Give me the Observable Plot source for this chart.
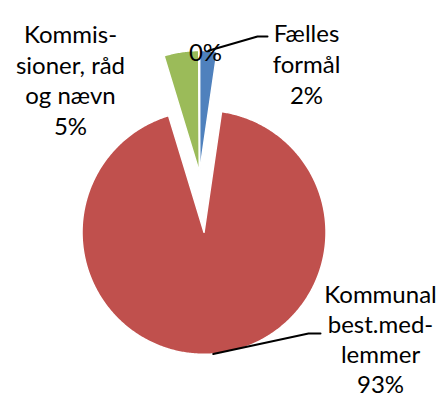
<!DOCTYPE html>
<html>
<head>
<meta charset="utf-8">
<script src="https://cdn.jsdelivr.net/npm/d3@7"></script>
<script src="https://cdn.jsdelivr.net/npm/@observablehq/plot@0.6"></script>
<style>
  html, body { margin: 0; padding: 0; background: #fff; }
  #chart { width: 440px; height: 400px; }
</style>
</head>
<body>
<div id="chart"></div>
<script>
// ---- data ----
const categories = ["Fælles formål", "Kommunal best.medlemmer", "Kommissioner, råd og nævn", "Øvrige"];
const values = [2.3, 93.0, 4.6, 0.1];
const labelLines = [
  ["Fælles", "formål", "2%"],
  ["Kommunal", "best.med-", "lemmer", "93%"],
  ["Kommis-", "sioner, råd", "og nævn", "5%"],
  ["0%"]
];
const palette = ["#4F81BD", "#C0504D", "#9BBB59", "#8064A2"];

// ---- layout (pixel-like units of the x/y scales) ----
const W = 440, H = 400;
const center = {x: 199, y: 172};
const radius = 122;
const explodeIndex = 1;      // the big slice is pulled out
const explodeDist = 60;
const labelPos = [
  {x: 306, y: 20},
  {x: 380, y: 281},
  {x: 70, y: 21},
  {x: 205, y: 39}
];
const lineHeights = [1.29, 1.25, 1.27, 1.27];
const leaderElbows = [
  [{x: 257, y: 36}, {x: 267, y: 36}],
  [{x: 308, y: 333}, {x: 320, y: 333}],
  null,
  null
];

const pie = d3.pie().sort(null).startAngle(0).endAngle(2 * Math.PI)(values);

const slicePts = [];
const sliceCenters = [];
pie.forEach((p, i) => {
  const mid = (p.startAngle + p.endAngle) / 2;
  const off = i === explodeIndex ? explodeDist : 0;
  const cx = center.x + off * Math.sin(mid);
  const cy = center.y - off * Math.cos(mid);
  sliceCenters.push({cx, cy, mid});
  const cat = categories[i];
  slicePts.push({cat, x: cx, y: cy});
  const span = p.endAngle - p.startAngle;
  const n = Math.max(2, Math.ceil(span / 0.01));
  for (let k = 0; k <= n; k++) {
    const a = p.startAngle + span * k / n;
    slicePts.push({cat, x: cx + radius * Math.sin(a), y: cy - radius * Math.cos(a)});
  }
});

const leaders = [];
leaderElbows.forEach((el, i) => {
  if (!el) return;
  const {cx, cy, mid} = sliceCenters[i];
  leaders.push({id: i, x: cx + radius * Math.sin(mid), y: cy - radius * Math.cos(mid)});
  el.forEach(p => leaders.push({id: i, x: p.x, y: p.y}));
});

const labels = categories.map((c, i) => ({cat: c, text: labelLines[i].join("\n"), x: labelPos[i].x, y: labelPos[i].y}));

const chart = Plot.plot({
  width: W,
  height: H,
  margin: 0,
  x: {domain: [0, W], range: [0, W], axis: null},
  y: {domain: [0, H], range: [0, H], axis: null},
  color: {domain: categories, range: palette},
  style: {background: "#fff"},
  marks: [
    Plot.line(slicePts, {x: "x", y: "y", z: "cat", fill: "cat", stroke: "white", strokeWidth: 1.5, curve: "linear-closed"}),
    Plot.line(leaders, {x: "x", y: "y", z: "id", stroke: "black", strokeWidth: 2}),
    ...labels.map((l, i) => Plot.text([l], {x: "x", y: "y", text: "text", lineAnchor: "top", lineHeight: lineHeights[i], fontSize: 24, fontFamily: "Lato", fontWeight: 400, fill: "black"}))
  ]
});
document.getElementById("chart").appendChild(chart);
</script>
</body>
</html>
